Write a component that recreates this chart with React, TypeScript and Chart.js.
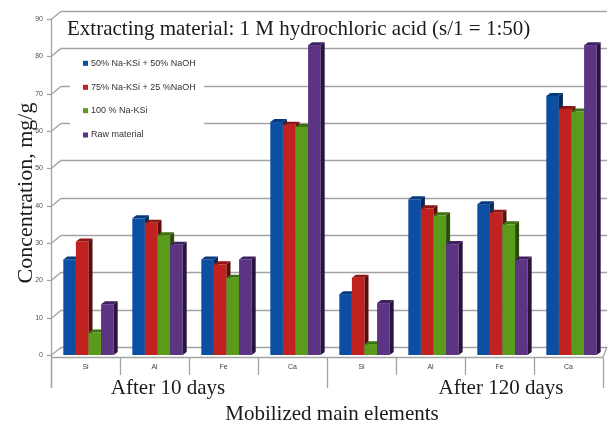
import React, { useEffect, useRef } from "react";
import { Chart, registerables } from "chart.js";

Chart.register(...registerables);

const elements = ["Si", "Al", "Fe", "Ca", "Si", "Al", "Fe", "Ca"];
const periods = ["After 10 days", "After 120 days"];
const seriesNames = [
  "50% Na-KSi + 50% NaOH",
  "75% Na-KSi + 25 %NaOH",
  "100 % Na-KSi",
  "Raw material",
];
const mix50 = [25.6, 36.6, 25.6, 62.4, 16.3, 41.7, 40.4, 69.4];
const mix75 = [30.4, 35.4, 24.3, 61.7, 20.7, 39.3, 38.1, 65.9];
const naksi100 = [6.0, 32.1, 20.7, 61.1, 2.9, 37.4, 35.0, 65.2];
const rawMaterial = [13.6, 29.5, 25.6, 83.0, 13.9, 29.7, 25.6, 83.0];
const yMin = 0;
const yMax = 90;
const yStep = 10;

const chartTitle = "Extracting material: 1 M hydrochloric acid (s/1 = 1:50)";
const yTitle = "Concentration, mg/g";
const xTitle = "Mobilized main elements";

const frontColors = ["#0b4ea2", "#c1211f", "#5b9b1b", "#5c3483"];
const topColors = ["#073a7c", "#8e1513", "#3e7111", "#3e2160"];
const sideColors = ["#052a5a", "#5e0c0b", "#2a4d0a", "#28143f"];

const SERIF = "'Liberation Serif', 'Times New Roman', serif";
const SANS = "'Liberation Sans', Arial, sans-serif";

const DEPTH_X = 4;
const DEPTH_Y = -3;
const WALL_X = 10;
const WALL_Y = -8;
const BAR_SHIFT = 3;

const decorPlugin = {
  id: "decor3d",
  beforeDatasetsDraw(chart: any) {
    const { ctx, chartArea, scales } = chart;
    const y = scales.y;
    ctx.save();
    ctx.strokeStyle = "#a3a3a3";
    ctx.lineWidth = 1.3;
    for (let v = yMin; v <= yMax; v += yStep) {
      const py = Math.round(y.getPixelForValue(v)) + 0.5;
      ctx.beginPath();
      ctx.moveTo(chartArea.left, py);
      ctx.lineTo(chartArea.left + WALL_X, py + WALL_Y);
      ctx.lineTo(chartArea.right + 4, py + WALL_Y);
      ctx.stroke();
    }
    const p0 = y.getPixelForValue(0);
    ctx.beginPath();
    ctx.moveTo(chartArea.right, p0 + 2);
    ctx.lineTo(chartArea.right + 4, p0 + WALL_Y);
    ctx.stroke();
    ctx.restore();
  },
  beforeDatasetDraw() {
    return false;
  },
  afterDatasetsDraw(chart: any) {
    const { ctx } = chart;
    const metas = chart.data.datasets.map((_: any, i: number) => chart.getDatasetMeta(i));
    const n = elements.length;
    ctx.save();
    for (let j = 0; j < n; j++) {
      for (let i = 0; i < metas.length; i++) {
        const bar = metas[i].data[j];
        if (!bar) continue;
        const w = bar.width;
        const x0 = bar.x - w / 2 + BAR_SHIFT;
        const x1 = bar.x + w / 2 + BAR_SHIFT;
        const top = bar.y;
        const base = bar.base;
        ctx.fillStyle = frontColors[i];
        ctx.fillRect(x0, top, w, base - top);
        ctx.fillStyle = topColors[i];
        ctx.beginPath();
        ctx.moveTo(x0, top);
        ctx.lineTo(x0 + DEPTH_X, top + DEPTH_Y);
        ctx.lineTo(x1 + DEPTH_X, top + DEPTH_Y);
        ctx.lineTo(x1, top);
        ctx.closePath();
        ctx.fill();
        ctx.fillStyle = sideColors[i];
        ctx.beginPath();
        ctx.moveTo(x1, top);
        ctx.lineTo(x1 + DEPTH_X, top + DEPTH_Y);
        ctx.lineTo(x1 + DEPTH_X, base + DEPTH_Y);
        ctx.lineTo(x1, base);
        ctx.closePath();
        ctx.fill();
      }
    }
    ctx.restore();
  },
  afterDraw(chart: any) {
    const { ctx, chartArea, scales } = chart;
    const x = scales.x;
    const y = scales.y;
    const left = chartArea.left;
    const right = chartArea.right;
    const bottom = y.getPixelForValue(0);
    const top = y.getPixelForValue(yMax);
    ctx.save();

    ctx.strokeStyle = "#a3a3a3";
    ctx.lineWidth = 1.3;
    ctx.beginPath();
    ctx.moveTo(left + 0.5, top);
    ctx.lineTo(left + 0.5, bottom + 33);
    ctx.stroke();
    ctx.beginPath();
    ctx.moveTo(left, bottom + 2.5);
    ctx.lineTo(right, bottom + 2.5);
    ctx.stroke();
    for (let v = yMin; v <= yMax; v += yStep) {
      const py = Math.round(y.getPixelForValue(v)) + 0.5;
      ctx.beginPath();
      ctx.moveTo(left - 4, py);
      ctx.lineTo(left, py);
      ctx.stroke();
    }
    const n = elements.length;
    const pitch = (right - left) / n;
    for (let i = 0; i <= n; i++) {
      const px = Math.round(x.getPixelForValue(0) - pitch / 2 + i * pitch) + 0.5;
      const isGroup = i % 4 === 0;
      ctx.beginPath();
      ctx.moveTo(px, bottom + 2.5);
      ctx.lineTo(px, bottom + (isGroup ? 33 : 20));
      ctx.stroke();
    }

    ctx.fillStyle = "#1a1a1a";
    ctx.font = `21px ${SERIF}`;
    ctx.textAlign = "left";
    ctx.textBaseline = "alphabetic";
    ctx.fillText(chartTitle, left + 16, 34.5);

    ctx.fillStyle = "#ffffff";
    ctx.fillRect(left + 19, 52, 134, 94);
    const legendY = [63.3, 87.3, 110.7, 135];
    ctx.font = `9px ${SANS}`;
    ctx.textBaseline = "middle";
    seriesNames.forEach((name, i) => {
      ctx.fillStyle = frontColors[i];
      ctx.fillRect(left + 32, legendY[i] - 2.5, 5, 5);
      ctx.fillStyle = "#333333";
      ctx.fillText(name, left + 40, legendY[i]);
    });

    ctx.fillStyle = "#1a1a1a";
    ctx.font = `21px ${SERIF}`;
    ctx.textAlign = "center";
    ctx.textBaseline = "middle";
    ctx.fillText(periods[0], 168, 388);
    ctx.fillText(periods[1], 501, 388);
    ctx.fillText(xTitle, 332, 414);

    ctx.save();
    ctx.translate(26, 193);
    ctx.rotate(-Math.PI / 2);
    ctx.font = `22px ${SERIF}`;
    ctx.fillText(yTitle, 0, 0);
    ctx.restore();

    ctx.restore();
  },
};

export default function App() {
  const canvasRef = useRef<HTMLCanvasElement | null>(null);

  useEffect(() => {
    const canvas = canvasRef.current;
    if (!canvas) return;
    const series = [mix50, mix75, naksi100, rawMaterial];
    const chart = new Chart(canvas, {
      type: "bar",
      data: {
        labels: elements,
        datasets: series.map((data, i) => ({
          label: seriesNames[i],
          data,
          backgroundColor: frontColors[i],
          borderWidth: 0,
          categoryPercentage: 0.73,
          barPercentage: 1.0,
        })),
      },
      options: {
        responsive: false,
        animation: false,
        devicePixelRatio: 1,
        layout: { padding: { top: 19, right: 6, left: 0, bottom: 0 } },
        plugins: {
          legend: { display: false },
          tooltip: { enabled: false },
          title: { display: false },
        },
        scales: {
          x: {
            grid: { display: false, drawTicks: false },
            border: { display: false },
            ticks: {
              padding: 8,
              color: "#404040",
              font: { family: SANS, size: 7 },
              maxRotation: 0,
              autoSkip: false,
            },
            afterFit(scale: any) {
              scale.height = 71;
            },
          },
          y: {
            min: yMin,
            max: yMax,
            grid: { display: false, drawTicks: false },
            border: { display: false },
            ticks: {
              stepSize: yStep,
              padding: 8,
              color: "#505050",
              font: { family: SANS, size: 7 },
            },
            afterFit(scale: any) {
              scale.width = 51;
            },
          },
        },
      },
      plugins: [decorPlugin],
    });
    return () => chart.destroy();
  }, []);

  return (
    <div style={{ position: "fixed", left: 0, top: 0, width: 609, height: 426, background: "#ffffff" }}>
      <canvas ref={canvasRef} width={609} height={426} />
    </div>
  );
}
